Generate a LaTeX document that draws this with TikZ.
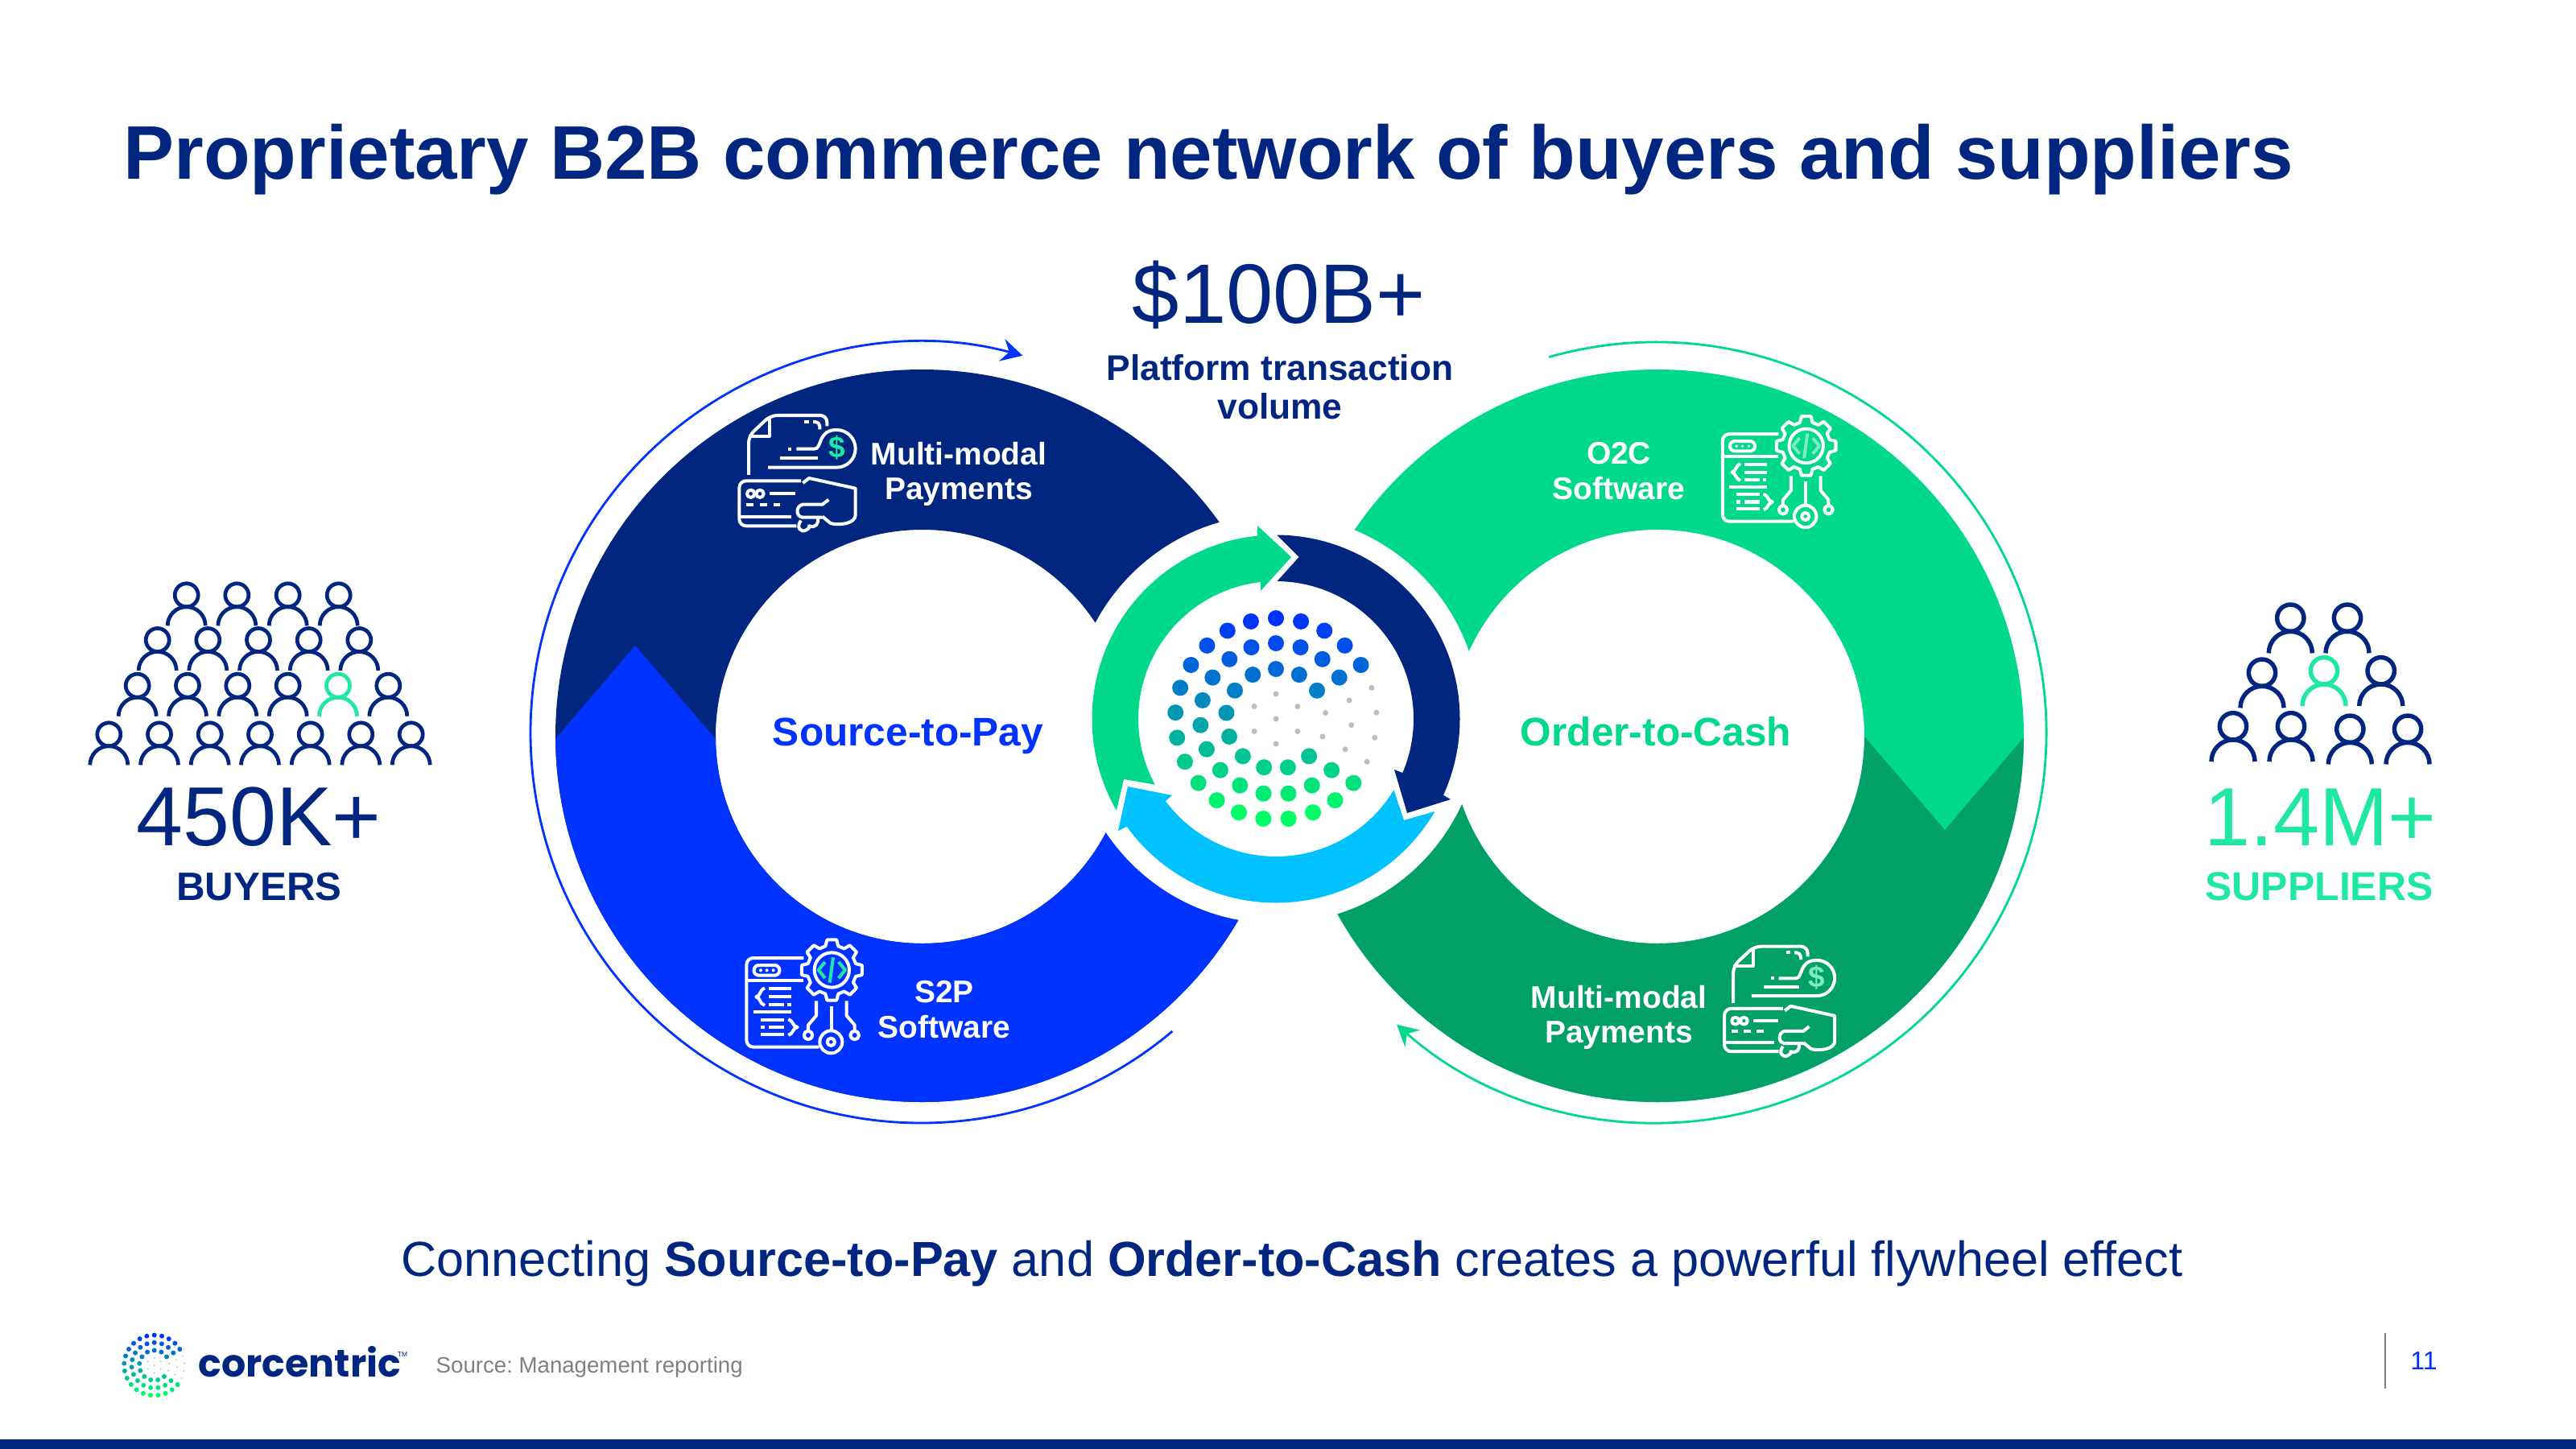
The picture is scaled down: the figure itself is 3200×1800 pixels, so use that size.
\documentclass[tikz,border=0pt]{standalone}
\usepackage{fontspec}
\setmainfont{Liberation Sans}
\newfontfamily\wordmark{Poppins}
\usetikzlibrary{positioning, arrows.meta}

\definecolor{s2pnavy}{HTML}{002680}
\definecolor{s2pblue}{HTML}{0033FF}
\definecolor{o2cgreen}{HTML}{00D98A}
\definecolor{o2cdark}{HTML}{00A066}
\definecolor{hubcyan}{HTML}{00C2FF}
\definecolor{mintgreen}{HTML}{20E8A0}
\definecolor{paleaccent}{HTML}{7FEAC4}
\definecolor{logoblue}{HTML}{0033FF}
\definecolor{logogreen}{HTML}{00FF66}
\definecolor{logogray}{HTML}{BDBDBD}
\definecolor{notegray}{HTML}{808080}

\tikzset{
	lbl/.style={inner sep=0pt, anchor=base},
	heading/.style={lbl, anchor=base west, text=s2pnavy, font=\fontsize{26.83}{30}\selectfont\bfseries},
	bignum/.style={lbl, font=\fontsize{29.6}{32}\selectfont},
	smallhead/.style={lbl, font=\fontsize{14}{16}\selectfont\bfseries},
	looplbl/.style={lbl, font=\fontsize{14.1}{16}\selectfont\bfseries},
	iconlbl/.style={inner sep=0pt, align=center, text=white, font=\fontsize{11.07}{12.3}\selectfont\bfseries},
	iconline/.style={draw=white, line width=1.14pt, line join=round},
	accentline/.style={line width=1.14pt, line join=round},
	crowd/.style={draw=s2pnavy, line width=1.34pt},
	crowdhi/.style={draw=mintgreen, line width=1.34pt},
	loopline/.style={line width=.8pt, -{Stealth[length=7.5pt, width=8pt, inset=2.6pt]}},
	person/.pic={
		\draw[pic actions] (0,0) circle (14.5);
		\draw[pic actions] (-23.5,38) arc[start angle=180, end angle=360, radius=23.5];
	},
	logodots/.pic={
		\foreach \cnt/\rad/\ga/\gb in {25/125/5/10, 19/94/4/8, 13/62/3/6}{
			\foreach \i in {1,...,\cnt}{
				\pgfmathsetmacro\ang{(\i-1)*360/\cnt-90}
				\pgfmathsetmacro\mix{min(100,max(0,(\rad*sin(\ang)+125)/2.4))}
				\pgfmathtruncatemacro\isgray{(\i>\ga)&&(\i<\gb)}
				\ifnum\isgray=1
					\fill[logogray] (\ang:\rad) circle (3.5);
				\else
					\fill[fill=logogreen!\mix!logoblue] (\ang:\rad) circle (10);
				\fi
			}
		}
		\foreach \ang in {-90,-30,...,210}{
			\fill[logogray] (\ang:31) circle (3.5);
		}
		\fill[logogray] (0,0) circle (3.5);
	},
	pics/payicon/.style={code={
		\draw[iconline, rounded corners=2.4pt] (150,300) -- (150,155) -- (232,78) -- (442,78) -- (442,118);
		\draw[iconline] (150,155) -- (228,155) -- (228,85);
		\draw[iconline, rounded corners=1.6pt] (390,102) -- (415,102) -- (415,130);
		\draw[iconline] (358,102) -- (375,102);
		\draw[iconline] (328,203) -- (395,203) .. controls (425,203) and (405,132) .. (478,132) arc[start angle=-90, end angle=90, radius=70] -- (222,272);
		\draw[iconline] (298,203) -- (310,203);
		\draw[iconline] (268,238) -- (408,238);
		\node (dollar) at (478,200) [inner sep=0pt, text=#1, font=\fontsize{10.5}{11}\selectfont\bfseries] {\$};
		\draw[iconline, rounded corners=2.4pt] (345,322) -- (115,322) -- (115,490) -- (328,490);
		\draw[iconline] (118,455) -- (310,455);
		\draw[iconline] (158,370) circle (14);
		\draw[iconline] (192,370) circle (14);
		\draw[iconline] (228,370) -- (325,370);
		\draw[iconline] (142,412) -- (168,412);
		\draw[iconline] (192,412) -- (218,412);
		\draw[iconline] (242,412) -- (268,412);
		\draw[iconline] (352,330) -- (375,312) -- (548,350) -- (548,450) .. controls (548,480) and (490,490) .. (455,480) -- (425,455);
		\draw[iconline] (448,392) -- (425,410) -- (352,410) .. controls (325,415) and (325,455) .. (350,458) -- (425,458);
		\draw[iconline] (345,470) .. controls (325,495) and (345,518) .. (365,505) .. controls (380,498) and (375,490) .. (375,490) .. controls (400,500) and (412,480) .. (408,460);
	}},
	pics/softicon/.style={code={
		\draw[iconline, rounded corners=2.4pt] (295,120) -- (82,120) -- (82,452) -- (352,452);
		\draw[iconline] (82,205) -- (295,205);
		\draw[iconline, rounded corners=1.7pt] (110,147) rectangle (205,185);
		\fill[white] (135,166) circle (6);
		\fill[white] (158,166) circle (6);
		\fill[white] (182,166) circle (6);
		\draw[iconline] (150,232) .. controls (130,240) and (135,262) .. (118,265) .. controls (135,270) and (130,290) .. (150,297);
		\draw[iconline] (165,235) -- (250,235);
		\draw[iconline] (165,265) -- (250,265);
		\draw[iconline] (165,295) -- (222,295);
		\draw[iconline] (235,295) -- (248,295);
		\draw[iconline] (108,320) -- (250,320);
		\draw[iconline] (135,350) -- (222,350);
		\draw[iconline] (135,378) -- (150,378);
		\draw[iconline] (165,378) -- (222,378);
		\draw[iconline] (135,405) -- (222,405);
		\draw[iconline] (238,348) .. controls (258,355) and (252,375) .. (272,378) .. controls (252,382) and (258,402) .. (238,408);
		\draw[iconline, shift={(400,165)}] (-15:92) foreach \a in {0,45,...,315}{-- (\a-15:92) -- (\a-9:114) -- (\a+9:114) -- (\a+15:92)} -- cycle;
		\draw[iconline] (400,165) circle (65);
		\draw[accentline, draw=#1] (375,135) -- (350,165) -- (375,195);
		\draw[accentline, draw=#1] (425,135) -- (450,165) -- (425,195);
		\draw[accentline, draw=#1] (405,118) -- (392,212);
		\draw[iconline] (398,300) -- (398,395);
		\draw[iconline] (342,280) -- (342,335) -- (312,370) -- (312,392);
		\draw[iconline] (455,280) -- (455,335) -- (485,370) -- (485,392);
		\draw[iconline] (312,408) circle (16);
		\draw[iconline] (485,408) circle (16);
		\draw[iconline] (397,433) circle (42);
		\draw[iconline] (397,433) circle (14);
	}},
}

\begin{document}
\begin{tikzpicture}[x=0.01cm, y=-0.01cm]
	\useasboundingbox (0,0) rectangle (3200,1800);
	\fill[white] (0,0) rectangle (3200,1800);
	\fill[s2pnavy] (0,1788) rectangle (3200,1800);

	\node (title) at (153,222) [heading] {Proprietary B2B commerce network of buyers and suppliers};

	% the two big loops
	\fill[s2pnavy, even odd rule] (1145,914) circle (455) (1146,915) circle (257);
	\begin{scope}
		\clip (600,918) -- (690,918) -- (789,802) -- (889,918) -- (1700,918) -- (1700,1500) -- (600,1500) -- cycle;
		\fill[s2pblue, even odd rule] (1145,914) circle (455) (1146,915) circle (257);
	\end{scope}
	\fill[o2cgreen, even odd rule] (2059,914) circle (455) (2059,915) circle (257);
	\begin{scope}
		\clip (2317,916) -- (2416,1031) -- (2514,916) -- (2600,916) -- (2600,1500) -- (1500,1500) -- (1500,916) -- cycle;
		\fill[o2cdark, even odd rule] (2059,914) circle (455) (2059,915) circle (257);
	\end{scope}
	\fill[white] (1585,893) circle (254);

	\draw[loopline, s2pblue] ([shift={(1144,910)}]49.9:485) arc[start angle=49.9, end angle=285.1, radius=485];
	\draw[loopline, o2cgreen] ([shift={(2057,910)}]-105.9:485) arc[start angle=-105.9, end angle=131.6, radius=485];

	% hub arrows
	\begin{scope}[shift={(1585,893)}]
		\fill[o2cgreen] (-209.9:228.5) arc[start angle=-209.9, end angle=-95.8, radius=228.5] -- (-23,-240) -- (19,-201) -- (-19,-159) -- (-96.4:171) arc[start angle=-96.4, end angle=-208.5, radius=171] -- (-189,75) -- cycle;
		\fill[s2pnavy] (-89.7:228.5) arc[start angle=-89.7, end angle=24.5, radius=228.5] -- (217,100) -- (163,117) -- (147,63) -- (23.1:171) arc[start angle=23.1, end angle=-89.5, radius=171] -- (28.6,-201) -- cycle;
		\fill[hubcyan] (30.2:228.5) arc[start angle=30.2, end angle=144.2, radius=228.5] -- (-196,139) -- (-184,84) -- (-129,95) -- (143.3:171) arc[start angle=143.3, end angle=31.1, radius=171] -- (159,126) -- cycle;
	\end{scope}
	\pic (hublogo) at (1585,893) {logodots};

	\node (amount) at (1589,401) [lbl, font=\fontsize{29.8}{32}\selectfont, text=s2pnavy] {\$100B+};
	\node (volume) at (1590,481) [inner sep=0pt, align=center, text=s2pnavy, font=\fontsize{12.6}{13.7}\selectfont\bfseries] {Platform transaction\\volume};

	\node (s2p) at (1128,926) [looplbl, text=s2pblue] {Source-to-Pay};
	\node (o2c) at (2057,926) [looplbl, text=o2cgreen] {Order-to-Cash};

	\pic (payA) [scale=.3333] at (880,490) {payicon=mintgreen};
	\node (payAlbl) at (1191,589) [iconlbl] {Multi-modal\\Payments};
	\pic (softA) [scale=.3333] at (900,1150) {softicon=mintgreen};
	\node (softAlbl) at (1173,1254) [iconlbl] {S2P\\Software};
	\pic (softB) [scale=.3267] at (2113,500) {softicon=paleaccent};
	\node (softBlbl) at (2011,585) [iconlbl] {O2C\\Software};
	\pic (payB) [scale=.3167] at (2105.6,1151) {payicon=paleaccent};
	\node (payBlbl) at (2011,1264) [iconlbl] {Multi-modal\\Payments};

	% buyers
	\pic (b01) [crowd] at (231.7,739.3) {person};
	\pic (b02) [crowd] at (294.3,739.3) {person};
	\pic (b03) [crowd] at (357.7,739.3) {person};
	\pic (b04) [crowd] at (420.7,739.3) {person};
	\pic (b05) [crowd] at (195.7,795) {person};
	\pic (b06) [crowd] at (258.3,795) {person};
	\pic (b07) [crowd] at (321,795) {person};
	\pic (b08) [crowd] at (383.7,795) {person};
	\pic (b09) [crowd] at (446.3,795) {person};
	\pic (b10) [crowd] at (170.7,851.7) {person};
	\pic (b11) [crowd] at (233,851.7) {person};
	\pic (b12) [crowd] at (295.3,851.7) {person};
	\pic (b13) [crowd] at (357.7,851.7) {person};
	\pic (b14) [crowdhi] at (420,851.7) {person};
	\pic (b15) [crowd] at (482.3,851.7) {person};
	\pic (b16) [crowd] at (135.3,912.3) {person};
	\pic (b17) [crowd] at (198,912.3) {person};
	\pic (b18) [crowd] at (260.7,912.3) {person};
	\pic (b19) [crowd] at (323,912.3) {person};
	\pic (b20) [crowd] at (385.7,912.3) {person};
	\pic (b21) [crowd] at (448.3,912.3) {person};
	\pic (b22) [crowd] at (510.7,912.3) {person};
	\node (buyers) at (321.5,1050) [bignum, text=s2pnavy] {450K+};
	\node (buyerslbl) at (322,1118) [smallhead, text=s2pnavy] {BUYERS};

	% suppliers
	\pic (s01) [crowd, scale=1.15, line width=1.55pt] at (2845.3,767.7) {person};
	\pic (s02) [crowd, scale=1.15, line width=1.55pt] at (2916,767.7) {person};
	\pic (s03) [crowd, scale=1.15, line width=1.55pt] at (2810,835.7) {person};
	\pic (s04) [crowdhi, scale=1.15, line width=1.55pt] at (2887,833.3) {person};
	\pic (s05) [crowd, scale=1.15, line width=1.55pt] at (2957.7,833.3) {person};
	\pic (s06) [crowd, scale=1.15, line width=1.55pt] at (2774,902.3) {person};
	\pic (s07) [crowd, scale=1.15, line width=1.55pt] at (2846,902.3) {person};
	\pic (s08) [crowd, scale=1.15, line width=1.55pt] at (2919.3,905.7) {person};
	\pic (s09) [crowd, scale=1.15, line width=1.55pt] at (2991,905.7) {person};
	\node (suppliers) at (2882.5,1050) [bignum, text=mintgreen, font=\fontsize{29.2}{32}\selectfont] {1.4M+};
	\node (supplierslbl) at (2881,1118) [smallhead, text=mintgreen, font=\fontsize{14.2}{16}\selectfont\bfseries] {SUPPLIERS};

	\node (flywheel) at (1605,1585) [lbl, text=s2pnavy, font=\fontsize{17.4}{20}\selectfont] {Connecting \textbf{Source-to-Pay} and \textbf{Order-to-Cash} creates a powerful flywheel effect};

	% footer
	\pic (footlogo) [scale=.3] at (191.7,1696) {logodots};
	\node (brand) at (246,1710) [lbl, anchor=base west, text=s2pnavy, font=\wordmark\fontsize{13.5}{15}\selectfont\bfseries] {corcentric};
	\node (tm) at (500,1683) [inner sep=0pt, text=s2pnavy, font=\fontsize{2.4}{3}\selectfont] {TM};
	\node (source) at (541,1705) [lbl, anchor=base west, text=notegray, font=\fontsize{7.86}{9}\selectfont\frenchspacing] {Source: Management reporting};
	\draw[notegray, line width=.6pt] (2962.7,1656) -- (2962.7,1725);
	\node (pageno) at (3011,1701.7) [lbl, text=s2pblue, font=\fontsize{9.1}{10}\selectfont] {11};
\end{tikzpicture}
\end{document}
